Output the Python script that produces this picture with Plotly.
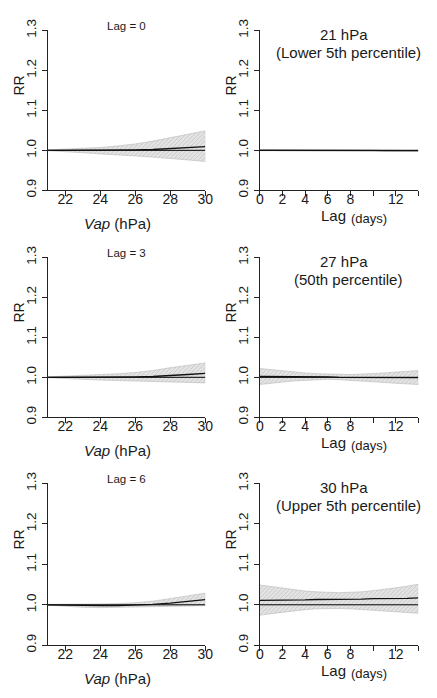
import plotly.graph_objects as go

W, H = 437, 698

# ---------------- data ----------------
vap = [21, 22, 23, 24, 25, 26, 27, 28, 29, 30]
lags = list(range(0, 15))

est_lag0 = [1.000, 1.000, 1.000, 1.000, 1.000, 1.001, 1.002, 1.004, 1.006, 1.009]
lo_lag0 = [0.999, 0.997, 0.994, 0.991, 0.988, 0.986, 0.983, 0.980, 0.976, 0.972]
hi_lag0 = [1.001, 1.003, 1.005, 1.007, 1.011, 1.016, 1.023, 1.031, 1.040, 1.049]

est_lag3 = [1.000, 1.000, 1.000, 1.000, 1.000, 1.001, 1.002, 1.004, 1.007, 1.010]
lo_lag3 = [0.999, 0.997, 0.995, 0.993, 0.992, 0.991, 0.990, 0.989, 0.987, 0.986]
hi_lag3 = [1.001, 1.003, 1.004, 1.006, 1.009, 1.012, 1.017, 1.024, 1.030, 1.036]

est_lag6 = [1.000, 0.999, 0.998, 0.998, 0.998, 0.999, 1.001, 1.004, 1.008, 1.013]
lo_lag6 = [0.999, 0.997, 0.994, 0.993, 0.993, 0.994, 0.995, 0.996, 0.997, 0.998]
hi_lag6 = [1.001, 1.001, 1.001, 1.002, 1.003, 1.005, 1.009, 1.015, 1.022, 1.029]

est_21 = [1.000, 1.000, 1.000, 1.000, 1.000, 1.000, 1.000, 1.000, 1.000, 1.000, 1.000, 0.999, 0.999, 0.999, 0.999]
lo_21 = [0.999, 0.999, 0.999, 0.999, 0.999, 0.999, 0.999, 0.999, 0.999, 0.999, 0.999, 0.997, 0.997, 0.997, 0.997]
hi_21 = [1.002, 1.002, 1.001, 1.001, 1.001, 1.001, 1.001, 1.001, 1.001, 1.001, 1.001, 1.000, 1.000, 1.000, 1.000]

est_27 = [1.002, 1.002, 1.002, 1.002, 1.002, 1.001, 1.001, 1.000, 1.000, 1.000, 1.000, 0.999, 0.999, 0.999, 0.999]
lo_27 = [0.982, 0.985, 0.988, 0.991, 0.993, 0.994, 0.995, 0.994, 0.993, 0.991, 0.989, 0.987, 0.985, 0.983, 0.982]
hi_27 = [1.022, 1.019, 1.016, 1.013, 1.011, 1.009, 1.008, 1.007, 1.007, 1.008, 1.009, 1.011, 1.013, 1.015, 1.017]

est_30 = [1.011, 1.011, 1.011, 1.012, 1.012, 1.013, 1.013, 1.013, 1.014, 1.014, 1.015, 1.015, 1.016, 1.016, 1.017]
lo_30 = [0.974, 0.978, 0.981, 0.985, 0.988, 0.990, 0.991, 0.991, 0.990, 0.989, 0.987, 0.985, 0.983, 0.981, 0.979]
hi_30 = [1.049, 1.045, 1.041, 1.037, 1.034, 1.032, 1.031, 1.030, 1.031, 1.032, 1.035, 1.038, 1.042, 1.046, 1.051]

y_ticks = [0.9, 1.0, 1.1, 1.2, 1.3]
y_ticktext = ["0.9", "1.0", "1.1", "1.2", "1.3"]
vap_ticks = [22, 24, 26, 28, 30]
lag_ticks = [0, 2, 4, 6, 8, 10, 12, 14]
lag_ticktext = ["0", "2", "4", "6", "8", "", "12", ""]

left_titles = ["Lag = 0", "Lag = 3", "Lag = 6"]
right_titles = [("21 hPa", "(Lower 5th percentile)"),
                ("27 hPa", "(50th percentile)"),
                ("30 hPa", "(Upper 5th percentile)")]

# ---------------- layout helpers ----------------
FONT = "Liberation Sans, Arial, sans-serif"
TXT = "#1a1a1a"

def px_x(x):
    return x / W

def px_y(y):
    return 1 - y / H

col_x = [(45, 207), (263, 426)]
row_y = [(20, 184), (253, 417), (485, 651)]

fig = go.Figure()
annotations = []

panels = [
    (0, 0, vap, est_lag0, lo_lag0, hi_lag0),
    (0, 1, lags, est_21, lo_21, hi_21),
    (1, 0, vap, est_lag3, lo_lag3, hi_lag3),
    (1, 1, lags, est_27, lo_27, hi_27),
    (2, 0, vap, est_lag6, lo_lag6, hi_lag6),
    (2, 1, lags, est_30, lo_30, hi_30),
]

layout = {}
for i, (r, c, xs, est, lo, hi) in enumerate(panels):
    n = i + 1
    xa = "x" if n == 1 else f"x{n}"
    ya = "y" if n == 1 else f"y{n}"
    xkey = "xaxis" if n == 1 else f"xaxis{n}"
    ykey = "yaxis" if n == 1 else f"yaxis{n}"

    # CI band
    fig.add_trace(go.Scatter(
        x=list(xs) + list(xs)[::-1], y=list(hi) + list(lo)[::-1],
        fill="toself", mode="lines", line=dict(width=0.6, color="#b8b8b8"),
        fillcolor="#dcdcdc",
        fillpattern=dict(shape="/", bgcolor="#e4e4e4", fgcolor="#9a9a9a",
                         size=3, solidity=0.25),
        xaxis=xa, yaxis=ya, showlegend=False, hoverinfo="skip"))
    # reference line
    fig.add_trace(go.Scatter(
        x=[xs[0], xs[-1]], y=[1.0, 1.0], mode="lines",
        line=dict(color="#000000", width=1),
        xaxis=xa, yaxis=ya, showlegend=False, hoverinfo="skip"))
    # estimate
    fig.add_trace(go.Scatter(
        x=xs, y=est, mode="lines", line=dict(color="#111111", width=1.3),
        xaxis=xa, yaxis=ya, showlegend=False))

    x0, x1 = col_x[c]
    y0, y1 = row_y[r]
    common_ax = dict(showline=True, linecolor="#222222", linewidth=1,
                     ticks="outside", ticklen=5, tickcolor="#222222", tickwidth=1,
                     showgrid=False, zeroline=False,
                     tickfont=dict(family=FONT, size=14, color=TXT))
    if c == 0:
        xaxis = dict(range=[21, 30], tickvals=vap_ticks,
                     ticktext=[str(v) for v in vap_ticks], **common_ax)
    else:
        xaxis = dict(range=[0, 14], tickvals=lag_ticks, ticktext=lag_ticktext,
                     **common_ax)
    xaxis.update(domain=[px_x(x0), px_x(x1)], anchor=ya, ticklabelstandoff=-9)
    yaxis = dict(common_ax)
    yaxis.update(range=[0.9, 1.3], tickvals=y_ticks, ticktext=y_ticktext,
                 tickangle=-90, domain=[px_y(y1), px_y(y0)], anchor=xa,
                 tickfont=dict(family=FONT, size=13.5, color=TXT))
    layout[xkey] = xaxis
    layout[ykey] = yaxis

    # RR label
    annotations.append(dict(text="RR", x=px_x(x0 - 30), y=px_y((y0 + y1) / 2 - 25),
                            xref="paper", yref="paper", showarrow=False,
                            textangle=-90, xanchor="center", yanchor="middle",
                            font=dict(family=FONT, size=14, color=TXT)))
    if c == 0:
        annotations.append(dict(text=left_titles[r], x=px_x(126), y=px_y(y0 - 5),
                                xref="paper", yref="paper", showarrow=False,
                                xanchor="center", yanchor="middle",
                                font=dict(family=FONT, size=11.5, color=TXT)))
        annotations.append(dict(text="<i>Vap</i> (hPa)", x=px_x(117), y=px_y(y1 + 34),
                                xref="paper", yref="paper", showarrow=False,
                                xanchor="center", yanchor="middle",
                                font=dict(family=FONT, size=15, color=TXT)))
    else:
        t1, t2 = right_titles[r]
        annotations.append(dict(text=t1, x=px_x(350), y=px_y(y0 + 4),
                                xref="paper", yref="paper", showarrow=False,
                                xanchor="center", yanchor="middle",
                                font=dict(family=FONT, size=15, color=TXT)))
        annotations.append(dict(text=t2, x=px_x(354), y=px_y(y0 + 23),
                                xref="paper", yref="paper", showarrow=False,
                                xanchor="center", yanchor="middle",
                                font=dict(family=FONT, size=15, color=TXT)))
        annotations.append(dict(text="Lag", x=px_x(354), y=px_y(y1 + 26),
                                xref="paper", yref="paper", showarrow=False,
                                xanchor="right", yanchor="middle",
                                font=dict(family=FONT, size=15, color=TXT)))
        annotations.append(dict(text="(days)", x=px_x(355), y=px_y(y1 + 29),
                                xref="paper", yref="paper", showarrow=False,
                                xanchor="left", yanchor="middle",
                                font=dict(family=FONT, size=13, color=TXT)))

fig.update_layout(width=W, height=H, margin=dict(l=0, r=0, t=0, b=0),
                  paper_bgcolor="white", plot_bgcolor="white",
                  annotations=annotations, showlegend=False, **layout)

fig.write_html("out.html")
